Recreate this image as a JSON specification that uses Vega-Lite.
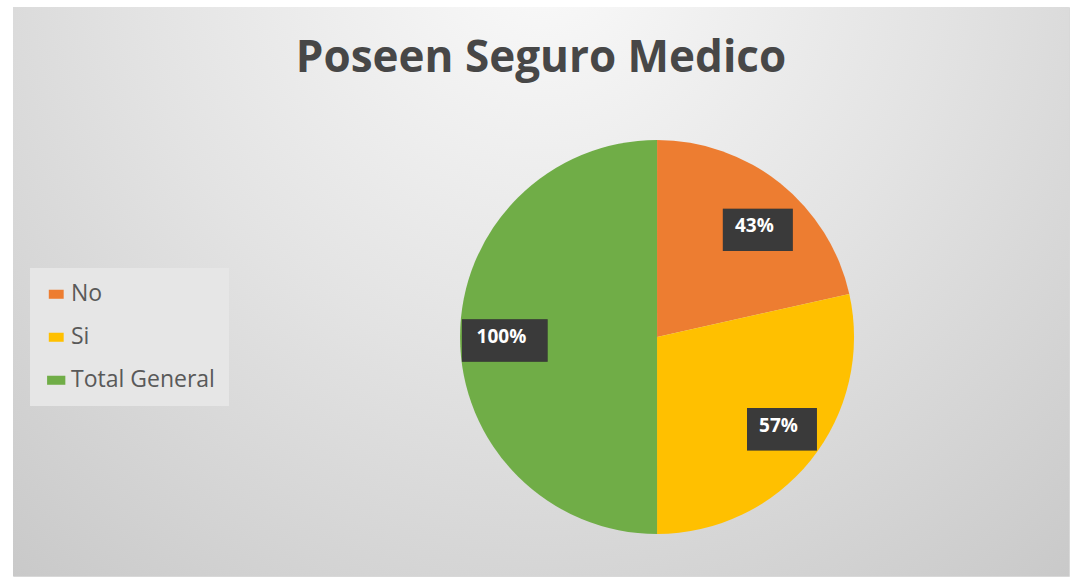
{
  "$schema": "https://vega.github.io/schema/vega-lite/v6.json",
  "autosize": "none",
  "width": 1056,
  "height": 569,
  "padding": {"left": 13, "top": 7, "right": 4, "bottom": 5},
  "background": "#ffffff",
  "title": {
    "text": "Poseen Seguro Medico",
    "font": "Open Sans",
    "fontWeight": "bold",
    "fontSize": 44,
    "color": "#474747",
    "anchor": "middle",
    "baseline": "alphabetic",
    "offset": -109
  },
  "config": {
    "view": {"stroke": "#d8d8d8", "strokeWidth": 1},
    "axis": {"disable": true}
  },
  "datasets": {
    "pie": [
      {"category": "No", "value": 43, "label": "43%"},
      {"category": "Si", "value": 57, "label": "57%"},
      {"category": "Total General", "value": 100, "label": "100%"}
    ]
  },
  "layer": [
    {
      "data": {"values": [{}]},
      "mark": {
        "type": "rect",
        "fill": {
          "gradient": "radial",
          "x1": 0.5, "y1": 0.18, "r1": 0,
          "x2": 0.5, "y2": 0.18, "r2": 0.85,
          "stops": [
            {"offset": 0, "color": "#fafafa"},
            {"offset": 0.45, "color": "#e3e3e3"},
            {"offset": 1, "color": "#c4c4c4"}
          ]
        }
      },
      "encoding": {}
    },
    {
      "data": {"name": "pie"},
      "mark": {"type": "arc", "outerRadius": 197, "stroke": null},
      "encoding": {
        "x": {"datum": 0, "type": "quantitative", "scale": {"domain": [-3.269, 2.091], "zero": false, "nice": false}},
        "y": {"datum": 0, "type": "quantitative", "scale": {"domain": [-1.213, 1.675], "zero": false, "nice": false}},
        "theta": {"field": "value", "type": "quantitative", "stack": true},
        "color": {
          "field": "category",
          "type": "nominal",
          "scale": {"domain": ["No", "Si", "Total General"], "range": ["#ED7D31", "#FFC000", "#70AD47"]},
          "legend": {
            "title": null,
            "orient": "none",
            "legendX": 17,
            "legendY": 261,
            "fillColor": "#e6e6e6",
            "padding": 14,
            "rowPadding": 19,
            "symbolType": "square",
            "symbolSize": 80,
            "symbolStrokeWidth": 0,
            "symbolOffset": 0,
            "labelFont": "Open Sans",
            "labelFontSize": 23,
            "labelColor": "#595959",
            "labelOffset": 4,
            "labelLimit": 300
          }
        }
      }
    },
    {
      "data": {"name": "pie"},
      "transform": [
        {"joinaggregate": [{"op": "sum", "field": "value", "as": "total"}]},
        {"window": [{"op": "sum", "field": "value", "as": "cum"}], "sort": [{"field": "category", "order": "ascending"}], "frame": [null, 0]},
        {"calculate": "(datum.cum - datum.value / 2) / datum.total * 2 * PI", "as": "mid"},
        {"calculate": "0.79 * sin(datum.mid)", "as": "lx"},
        {"calculate": "0.72 * cos(datum.mid)", "as": "ly"}
      ],
      "layer": [
        {
          "mark": {"type": "point", "filled": true, "color": "#000000", "opacity": 0.3, "strokeWidth": 0},
          "encoding": {
            "x": {"field": "lx", "type": "quantitative"},
            "y": {"field": "ly", "type": "quantitative"},
            "size": {"value": 1764},
            "shape": {
              "field": "category",
              "type": "nominal",
              "scale": {
                "domain": ["No", "Si", "Total General"],
                "range": [
                  "M-1.5,-0.84 L1.83,-0.84 L1.83,1.18 L-1.5,1.18 Z",
                  "M-1.5,-0.84 L1.83,-0.84 L1.83,1.18 L-1.5,1.18 Z",
                  "M-1.88,-0.84 L2.2,-0.84 L2.2,1.18 L-1.88,1.18 Z"
                ]
              },
              "legend": null
            }
          }
        },
        {
          "mark": {"type": "point", "filled": true, "color": "#3a3a3a", "opacity": 1, "strokeWidth": 0},
          "encoding": {
            "x": {"field": "lx", "type": "quantitative"},
            "y": {"field": "ly", "type": "quantitative"},
            "size": {"value": 1764},
            "shape": {
              "field": "category",
              "type": "nominal",
              "scale": {
                "domain": ["No", "Si", "Total General"],
                "range": [
                  "M-1.643,-1 L1.643,-1 L1.643,1 L-1.643,1 Z",
                  "M-1.643,-1 L1.643,-1 L1.643,1 L-1.643,1 Z",
                  "M-2.02,-1 L2.02,-1 L2.02,1 L-2.02,1 Z"
                ]
              },
              "legend": null
            }
          }
        },
        {
          "mark": {"type": "text", "font": "Open Sans", "fontWeight": "bold", "fontSize": 19, "color": "#ffffff", "align": "center", "baseline": "middle"},
          "encoding": {
            "x": {"field": "lx", "type": "quantitative"},
            "y": {"field": "ly", "type": "quantitative"},
            "text": {"field": "label", "type": "nominal"}
          }
        }
      ]
    }
  ]
}
